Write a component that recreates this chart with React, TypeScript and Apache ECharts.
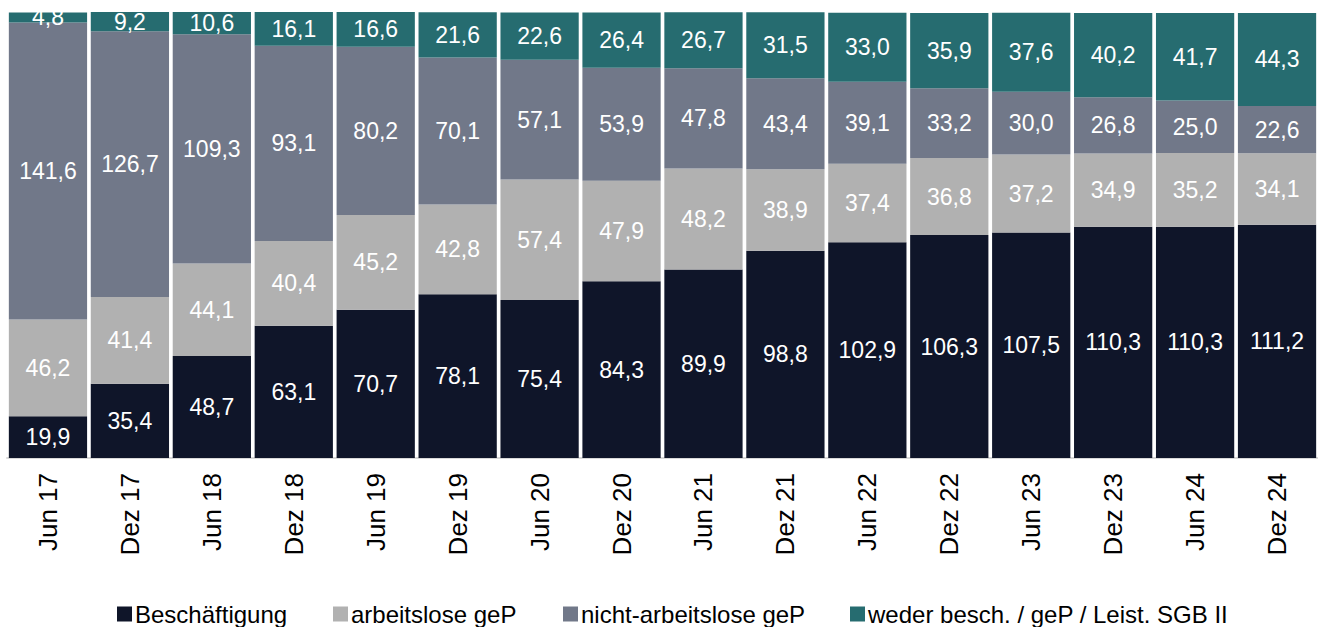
import React, { useEffect, useRef } from "react";
import * as echarts from "echarts";

const categories = ["Jun 17", "Dez 17", "Jun 18", "Dez 18", "Jun 19", "Dez 19", "Jun 20", "Dez 20", "Jun 21", "Dez 21", "Jun 22", "Dez 22", "Jun 23", "Dez 23", "Jun 24", "Dez 24"];
const beschaeftigung = [19.9, 35.4, 48.7, 63.1, 70.7, 78.1, 75.4, 84.3, 89.9, 98.8, 102.9, 106.3, 107.5, 110.3, 110.3, 111.2];
const arbeitslose = [46.2, 41.4, 44.1, 40.4, 45.2, 42.8, 57.4, 47.9, 48.2, 38.9, 37.4, 36.8, 37.2, 34.9, 35.2, 34.1];
const nichtArbeitslose = [141.6, 126.7, 109.3, 93.1, 80.2, 70.1, 57.1, 53.9, 47.8, 43.4, 39.1, 33.2, 30.0, 26.8, 25.0, 22.6];
const weder = [4.8, 9.2, 10.6, 16.1, 16.6, 21.6, 22.6, 26.4, 26.7, 31.5, 33.0, 35.9, 37.6, 40.2, 41.7, 44.3];

const seriesNames = ["Beschäftigung", "arbeitslose geP", "nicht-arbeitslose geP", "weder besch. / geP / Leist. SGB II"];
const seriesColors = ["#0f1529", "#b1b1b1", "#717889", "#266c70"];
const seriesData = [beschaeftigung, arbeitslose, nichtArbeitslose, weder];
const legendLeft = [117, 333, 563, 850];

const FONT = "'Liberation Sans', Arial, sans-serif";

export default function App() {
  const ref = useRef<HTMLDivElement>(null);
  useEffect(() => {
    if (!ref.current) return;
    const chart = echarts.init(ref.current, null, { renderer: "svg" });
    const totals = categories.map((_, i) => seriesData.reduce((s, arr) => s + arr[i], 0));
    const maxTotal = Math.max(...totals);
    chart.setOption({
      animation: false,
      textStyle: { fontFamily: FONT },
      grid: { left: 7, top: 12, width: 1323.4, bottom: 169, containLabel: false },
      xAxis: {
        type: "category",
        data: categories,
        axisLine: { show: true, lineStyle: { color: "#d9d9d9", width: 2 } },
        axisTick: { show: false },
        axisLabel: { rotate: 90, fontSize: 26, color: "#000", margin: 15, fontFamily: FONT },
      },
      yAxis: { type: "value", min: 0, max: maxTotal, show: false, splitLine: { show: false } },
      legend: seriesNames.map((name, i) => ({
        data: [name],
        left: legendLeft[i],
        top: 602,
        padding: 0,
        itemWidth: 15,
        itemHeight: 15,
        icon: "rect",
        textStyle: { fontSize: 24, color: "#000", fontFamily: FONT, padding: [0, 0, 0, -2] },
      })),
      series: seriesNames.map((name, i) => ({
        name,
        type: "bar",
        stack: "total",
        data: seriesData[i],
        barCategoryGap: "4.5%",
        itemStyle: { color: seriesColors[i] },
        label: {
          show: true,
          position: "inside",
          color: "#fff",
          fontSize: 23,
          fontFamily: FONT,
          formatter: (p: any) => p.value.toFixed(1).replace(".", ","),
        },
      })),
    });
    return () => chart.dispose();
  }, []);
  return <div ref={ref} style={{ position: "absolute", left: 0, top: 0, width: 1318, height: 627 }} />;
}
